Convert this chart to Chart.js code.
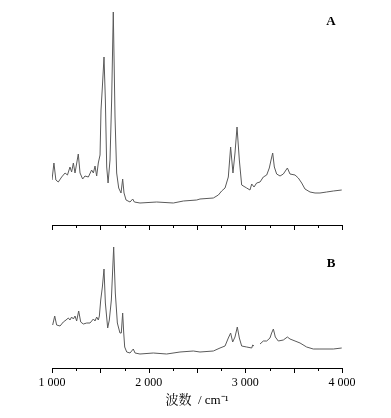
<!DOCTYPE html>
<html>
<head>
<meta charset="utf-8">
<script src="https://cdn.jsdelivr.net/npm/chart.js@4.4.1/dist/chart.umd.min.js"></script>
<style>
  body { margin: 0; background: #fff; }
  #wrap { position: relative; width: 391px; height: 418px; }
  canvas { position: absolute; left: 0; }
  #chartA { top: 0; }
  #chartB { top: 235px; }
</style>
</head>
<body>
<div id="wrap">
  <canvas id="chartA" width="391" height="240"></canvas>
  <canvas id="chartB" width="391" height="183"></canvas>
</div>
<script>
// wavenumber (cm-1) and intensity (a.u.) for spectrum A
let wnA = [1000, 1020, 1040, 1065, 1100, 1135, 1160, 1186, 1203, 1221, 1238, 1272, 1290, 1317, 1341, 1376, 1410, 1428, 1445, 1462, 1479, 1497,
    1507, 1521, 1538, 1552, 1566, 1580, 1600, 1617, 1634, 1652, 1669, 1690, 1714, 1731, 1745, 1766, 1807, 1835, 1852, 1910, 2083, 2255,
    2359, 2497, 2531, 2669, 2721, 2755, 2790, 2824, 2848, 2872, 2893, 2914, 2938, 2962, 3014, 3048, 3066, 3090, 3117, 3152, 3186, 3221,
    3248, 3266, 3283, 3300, 3324, 3359, 3393, 3435, 3462, 3514, 3548, 3583, 3617, 3669, 3721, 3772, 3841, 3910, 3997];
let absA = [0.45, 0.62, 0.45, 0.43, 0.48, 0.52, 0.50, 0.58, 0.53, 0.62, 0.52, 0.71, 0.52, 0.46, 0.49, 0.48, 0.55, 0.52, 0.59, 0.49, 0.62, 0.70,
    1.15, 1.38, 1.68, 1.25, 0.58, 0.42, 0.65, 1.25, 2.13, 1.08, 0.52, 0.37, 0.32, 0.46, 0.32, 0.25, 0.23, 0.26, 0.23, 0.22, 0.23, 0.22,
    0.24, 0.25, 0.26, 0.27, 0.30, 0.34, 0.37, 0.48, 0.78, 0.52, 0.72, 0.98, 0.65, 0.40, 0.37, 0.35, 0.41, 0.38, 0.42, 0.43, 0.48, 0.50,
    0.57, 0.65, 0.72, 0.58, 0.51, 0.49, 0.51, 0.57, 0.51, 0.50, 0.47, 0.42, 0.36, 0.33, 0.32, 0.32, 0.33, 0.34, 0.35];

// spectrum B (null = gap in the recorded trace)
let wnB = [1007, 1028, 1048, 1083, 1117, 1145, 1169, 1186, 1203, 1221, 1238, 1255, 1276, 1297, 1324, 1359, 1393, 1428, 1445, 1462, 1479, 1490,
    1504, 1521, 1538, 1552, 1576, 1593, 1614, 1638, 1655, 1676, 1703, 1717, 1731, 1742, 1752, 1773, 1807, 1841, 1859, 1910, 2048, 2186,
    2324, 2462, 2531, 2669, 2738, 2790, 2824, 2848, 2869, 2893, 2917, 2938, 2962, 3014, 3066, 3076, 3090, 3120, 3152, 3186, 3221, 3255,
    3272, 3290, 3310, 3341, 3393, 3435, 3462, 3514, 3566, 3634, 3703, 3772, 3910, 3997];
let absB = [0.43, 0.52, 0.43, 0.42, 0.46, 0.48, 0.50, 0.48, 0.51, 0.49, 0.52, 0.47, 0.57, 0.46, 0.44, 0.45, 0.45, 0.49, 0.47, 0.51, 0.48, 0.52,
    0.68, 0.81, 0.99, 0.65, 0.40, 0.48, 0.68, 1.21, 0.75, 0.45, 0.35, 0.35, 0.55, 0.35, 0.21, 0.16, 0.15, 0.19, 0.15, 0.14, 0.15, 0.14,
    0.16, 0.17, 0.16, 0.17, 0.20, 0.22, 0.30, 0.35, 0.26, 0.31, 0.41, 0.30, 0.22, 0.21, 0.20, 0.23, 0.22, null, 0.24, 0.27, 0.27, 0.30,
    0.35, 0.39, 0.31, 0.27, 0.28, 0.31, 0.29, 0.27, 0.25, 0.21, 0.19, 0.19, 0.19, 0.20];

let xTickLabels = ["1 000", "2 000", "3 000", "4 000"];
let serif = "'Liberation Serif', 'Times New Roman', 'Noto Serif CJK SC', 'Noto Sans CJK SC', serif";

// ticks: long every 500, short every 250, hanging under the axis line
let tickMarks = {
    id: "tickMarks",
    afterDraw(chart) {
        let sx = chart.scales.x;
        let ctx = chart.ctx;
        ctx.save();
        ctx.strokeStyle = "#000";
        ctx.lineWidth = 1;
        sx.ticks.forEach(function (t) {
            let px = Math.round(sx.getPixelForValue(t.value)) + 0.5;
            let len = t.value % 500 === 0 ? 5 : 3;
            ctx.beginPath();
            ctx.moveTo(px, sx.top);
            ctx.lineTo(px, sx.top + len);
            ctx.stroke();
        });
        ctx.restore();
    }
};

let panelLetter = {
    id: "panelLetter",
    afterDraw(chart, args, opts) {
        let ctx = chart.ctx;
        ctx.save();
        ctx.fillStyle = "#000";
        ctx.font = "bold 13px " + serif;
        ctx.textAlign = "center";
        ctx.textBaseline = "middle";
        ctx.fillText(opts.text, chart.chartArea.right - 11, chart.chartArea.top + opts.dy);
        ctx.restore();
    }
};

function spectrum(id, wn, vals, yMax, topPad, axisHeight, letter, letterDy, showLabels) {
    let ctx = document.getElementById(id).getContext("2d");
    return new Chart(ctx, {
        type: "line",
        data: {
            datasets: [{
                data: wn.map(function (x, i) { return { x: x, y: vals[i] }; }),
                borderColor: "#5a5a5a",
                borderWidth: 1,
                pointRadius: 0,
                tension: 0,
                fill: false,
            }],
        },
        options: {
            responsive: false,
            animation: false,
            devicePixelRatio: 1,
            layout: { padding: { left: 52, right: 49, top: topPad, bottom: 0 } },
            plugins: {
                legend: { display: false },
                tooltip: { enabled: false },
                panelLetter: { text: letter, dy: letterDy },
            },
            scales: {
                x: {
                    type: "linear",
                    min: 1000,
                    max: 4000,
                    afterFit: function (scale) { scale.height = axisHeight; },
                    grid: { display: false, drawTicks: true, tickLength: 4 },
                    border: { display: true, color: "#000", width: 1 },
                    ticks: {
                        display: showLabels,
                        stepSize: 250,
                        autoSkip: false,
                        maxRotation: 0,
                        padding: 4,
                        color: "#000",
                        font: { family: serif, size: 12 },
                        callback: function (v) {
                            return v % 1000 === 0 ? xTickLabels[(v - 1000) / 1000] : "";
                        },
                    },
                    title: {
                        display: showLabels,
                        text: "波数  / cm⁻¹",
                        color: "#000",
                        font: { family: serif, size: 13 },
                        padding: { top: 0, bottom: 10 },
                    },
                },
                y: { display: false, min: 0, max: yMax },
            },
        },
        plugins: [tickMarks, panelLetter],
    });
}

let chartA = spectrum("chartA", wnA, absA, 2.15, 10, 15, "A", 12, false);
let chartB = spectrum("chartB", wnB, absB, 1.28, 5, 50, "B", 24, true);
</script>
</body>
</html>
